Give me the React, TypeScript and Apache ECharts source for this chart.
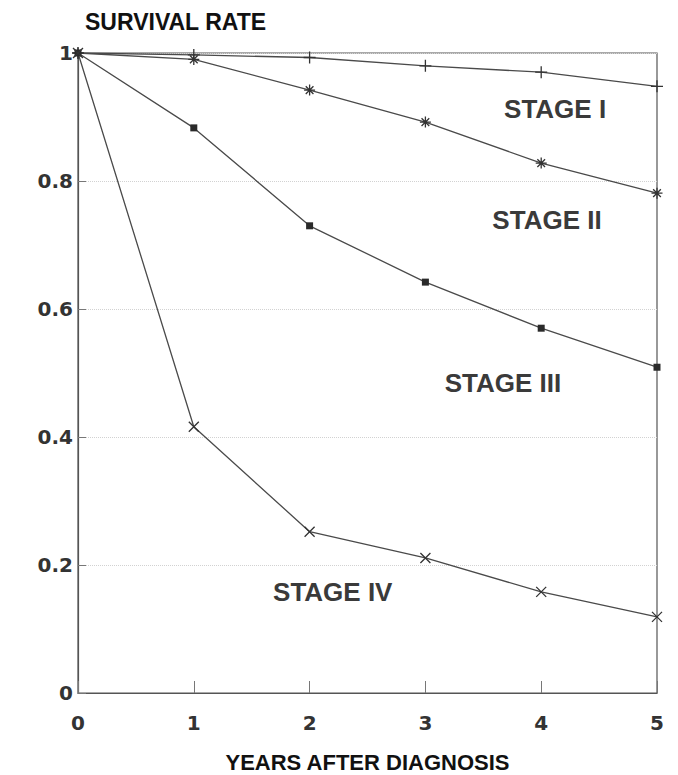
import React, { useEffect, useRef } from "react";
import * as echarts from "echarts";

const years = [0, 1, 2, 3, 4, 5];
const stageI = [1, 0.997, 0.993, 0.98, 0.97, 0.948];
const stageII = [1, 0.99, 0.942, 0.892, 0.828, 0.781];
const stageIII = [1, 0.883, 0.73, 0.642, 0.57, 0.509];
const stageIV = [1, 0.416, 0.252, 0.211, 0.158, 0.119];
const yTicks = [0, 0.2, 0.4, 0.6, 0.8, 1];
const stageNames = ["STAGE I", "STAGE II", "STAGE III", "STAGE IV"];
const labelAnchors: [number, number][] = [
  [4.12, 0.912],
  [4.05, 0.739],
  [3.67, 0.484],
  [2.2, 0.158],
];

const FONT = "'Liberation Sans', Arial, Helvetica, sans-serif";
const TICKFONT = "'DejaVu Sans', 'Liberation Sans', sans-serif";
const LINE = "#4a4a4a";

const PLUS = "path://M5 0 L5 10 M1 5 L9 5";
const CROSS = "path://M0 0 L10 10 M0 10 L10 0";
const STAR = "path://M5 0 L5 10 M0 5 L10 5 M1.5 1.5 L8.5 8.5 M1.5 8.5 L8.5 1.5";

function pairs(v: number[]) {
  return years.map((x, i) => [x, v[i]]);
}

export default function App() {
  const ref = useRef<HTMLDivElement>(null);
  useEffect(() => {
    document.body.style.margin = "0";
    const chart = echarts.init(ref.current!, null, { renderer: "svg" });
    const strokeSym = (sym: string, size: number) => ({
      symbol: sym,
      symbolSize: size,
      itemStyle: { color: "rgba(0,0,0,0)", borderColor: "#333", borderWidth: 1.3 },
    });
    const base = {
      type: "line" as const,
      lineStyle: { color: LINE, width: 1.3 },
      showAllSymbol: true,
      z: 3,
    };
    chart.setOption({
      animation: false,
      backgroundColor: "#ffffff",
      textStyle: { fontFamily: FONT },
      title: {
        text: "SURVIVAL RATE",
        left: 80,
        top: 5,
        textStyle: { fontFamily: FONT, fontSize: 23, fontWeight: "bold", color: "#111" },
      },
      grid: {
        left: 78,
        right: 21,
        top: 53,
        bottom: 82,
        containLabel: false,
        outerBoundsMode: "none",
        show: true,
        borderColor: "#555",
        borderWidth: 1.2,
        backgroundColor: "transparent",
      },
      xAxis: {
        type: "value",
        min: 0,
        max: 5,
        interval: 1,
        name: "YEARS AFTER DIAGNOSIS",
        nameLocation: "middle",
        nameGap: 58,
        nameTextStyle: { fontFamily: FONT, fontSize: 22, fontWeight: "bold", color: "#111", lineHeight: 22 },
        axisLine: { show: true, lineStyle: { color: "#555", width: 1.2 } },
        axisTick: { show: true, inside: true, length: 12, lineStyle: { color: "#777" } },
        axisLabel: { fontFamily: TICKFONT, fontSize: 20, fontWeight: "bold", color: "#333", margin: 20 },
        splitLine: { show: false },
      },
      yAxis: {
        type: "value",
        min: 0,
        max: 1,
        interval: 0.2,
        axisLine: { show: true, lineStyle: { color: "#555", width: 1.2 } },
        axisTick: { show: true, inside: true, length: 8, lineStyle: { color: "#777" } },
        axisLabel: {
          fontFamily: TICKFONT,
          fontSize: 20,
          fontWeight: "bold",
          color: "#333",
          margin: 5,
          formatter: (v: number) => (yTicks.includes(Math.round(v * 10) / 10) ? String(Math.round(v * 10) / 10) : ""),
        },
        splitLine: { show: true, lineStyle: { color: "#d2d2d2", type: "dotted", width: 1 } },
      },
      series: [
        { ...base, name: stageNames[0], data: pairs(stageI), ...strokeSym(PLUS, 12) },
        { ...base, name: stageNames[1], data: pairs(stageII), ...strokeSym(STAR, 11) },
        {
          ...base,
          name: stageNames[2],
          data: pairs(stageIII),
          symbol: "rect",
          symbolSize: 7,
          itemStyle: { color: "#2a2a2a" },
        },
        { ...base, name: stageNames[3], data: pairs(stageIV), ...strokeSym(CROSS, 10) },
      ],
    });
    const graphics = stageNames.map((t, i) => {
      const p = chart.convertToPixel({ gridIndex: 0 }, labelAnchors[i]) as number[];
      return {
        type: "text",
        x: p[0],
        y: p[1],
        style: {
          text: t,
          fontFamily: FONT,
          fontSize: 26,
          fontWeight: "bold",
          fill: "#3a3a3a",
          textAlign: "center",
          textVerticalAlign: "middle",
        },
        z: 10,
      };
    });
    chart.setOption({ graphic: graphics });
    return () => chart.dispose();
  }, []);
  return (
    <div
      ref={ref}
      style={{ position: "absolute", left: 0, top: 0, width: 678, height: 775 }}
    />
  );
}
